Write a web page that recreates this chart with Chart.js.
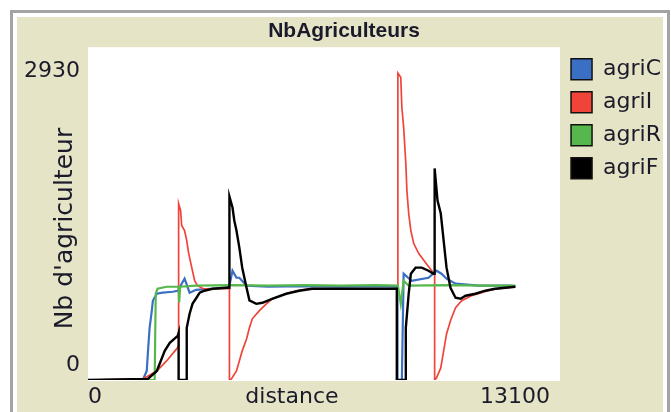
<!DOCTYPE html>
<html><head>
<meta charset="UTF-8">
<title>NbAgriculteurs</title>
<style>
  body { margin: 0; background: #fff; }
  #frame { position: absolute; left: 10px; top: 10px; width: 654px; height: 420px; border: 3px solid #a3a3a3; background: #fff; }
  #panel { position: absolute; left: 4px; top: 4px; width: 646px; height: 412px; background: #e6e4c6; }
  canvas { display: block; }
</style>
<script src="https://cdn.jsdelivr.net/npm/chart.js"></script>
</head>
<body>
<div id="frame"><div id="panel"><canvas id="plot" width="646" height="395"></canvas></div></div>

<script>
// values (x = distance, y = nb agriculteurs)
const agriCX = [0, 1520, 1630, 1660, 1710, 1770, 1800, 1910, 2070, 2350, 2490, 2600, 2680, 2820, 3000, 3400, 3840, 3925, 4010, 4120, 4200, 4400, 5000, 6000, 7000, 8000, 8590, 8590, 8710, 8760, 8980, 9450, 9670, 9810, 9950, 10200, 10840, 11750, 11860];
const agriCY = [0, 0, 86, 249, 498, 660, 756, 823, 833, 842, 852, 919, 967, 833, 861, 871, 880, 900, 1043, 976, 976, 900, 890, 895, 890, 895, 890, 0, 0, 1014, 947, 976, 1043, 1014, 967, 919, 900, 900, 890];

const agriIX = [0, 1520, 1910, 2180, 2460, 2515, 2515, 2570, 2600, 2680, 2740, 2790, 2880, 2960, 3040, 3200, 3925, 3925, 3980, 4120, 4200, 4280, 4400, 4480, 4560, 4750, 4950, 5110, 5500, 5780, 6140, 8600, 8600, 8680, 8710, 8760, 8820, 8850, 8900, 8960, 9040, 9180, 9370, 9540, 9620, 9620, 9670, 9790, 9870, 9950, 10060, 10200, 10370, 10640, 10920, 11190, 11580, 11860];
const agriIY = [0, 10, 86, 182, 297, 325, 1684, 1617, 1474, 1426, 1330, 1215, 1072, 947, 900, 871, 871, 0, 10, 86, 182, 278, 392, 498, 584, 660, 727, 775, 823, 852, 871, 871, 2928, 2890, 2603, 2412, 2067, 1809, 1589, 1426, 1302, 1206, 1120, 1043, 1000, 0, 19, 115, 278, 440, 565, 689, 756, 804, 833, 861, 880, 890];

const agriRX = [0, 1850, 1880, 1930, 2180, 2515, 2530, 2560, 3000, 4000, 5000, 6000, 7000, 8000, 8600, 8680, 8760, 8900, 10000, 11000, 11860];
const agriRY = [0, 0, 823, 871, 890, 890, 740, 890, 900, 905, 900, 905, 900, 905, 900, 727, 947, 900, 905, 900, 900];

const agriFX = [0, 1660, 1910, 2130, 2270, 2490, 2515, 2515, 2740, 2740, 2820, 2900, 3010, 3100, 3230, 3460, 3840, 3925, 3925, 4010, 4060, 4120, 4200, 4280, 4400, 4480, 4670, 4840, 5110, 5500, 5860, 6220, 7240, 8570, 8570, 8820, 8820, 8900, 8960, 9090, 9260, 9450, 9590, 9620, 9620, 9700, 9790, 9870, 9950, 10060, 10200, 10340, 10480, 10750, 11030, 11300, 11580, 11860];
const agriFY = [0, 10, 86, 278, 354, 421, 450, 0, 0, 498, 632, 727, 785, 833, 852, 871, 880, 880, 1751, 1646, 1522, 1426, 1263, 1072, 880, 760, 727, 737, 775, 823, 852, 871, 871, 871, 0, 0, 498, 823, 1014, 1072, 1072, 1043, 1014, 1014, 2019, 1713, 1589, 1330, 1072, 880, 785, 775, 804, 823, 852, 871, 880, 890];

const seriesNames = ['agriC', 'agriI', 'agriR', 'agriF'];
const seriesColors = ['#3a6fc4', '#f0443a', '#56b84c', '#000000'];
const xTickValues = [0, 13100];
const xTickLabels = ['0', '13100'];
const yTickValues = [0, 2930];
const yTickLabels = ['0', '2930'];
const xTitle = 'distance';
const yTitle = "Nb d'agriculteur";
const plotTitle = 'NbAgriculteurs';

const textColor = '#1a1a2a';
const fontFamily = '"DejaVu Sans", sans-serif';

function points(xs, ys) {
  return xs.map((x, i) => ({x: x, y: ys[i]}));
}

const seriesData = [points(agriCX, agriCY), points(agriIX, agriIY), points(agriRX, agriRY), points(agriFX, agriFY)];

// white plot background + axis titles drawn beside the tick labels, like NetLogo
const plotDecor = {
  id: 'plotDecor',
  beforeDatasetsDraw(chart) {
    const a = chart.chartArea;
    chart.ctx.save();
    chart.ctx.fillStyle = '#ffffff';
    chart.ctx.fillRect(a.left, a.top, a.right - a.left, a.bottom - a.top + 1);
    chart.ctx.restore();
  },
  afterDraw(chart) {
    const ctx = chart.ctx;
    const a = chart.chartArea;
    ctx.save();
    ctx.fillStyle = textColor;
    ctx.textAlign = 'center';
    ctx.textBaseline = 'middle';
    ctx.font = '22px ' + fontFamily;
    ctx.fillText(xTitle, a.left + (a.right - a.left) * 0.432, a.bottom + 17);
    ctx.font = '25px ' + fontFamily;
    ctx.translate(48, a.top + (a.bottom - a.top) * 0.545);
    ctx.rotate(-Math.PI / 2);
    ctx.fillText(yTitle, 0, 0);
    ctx.restore();
  }
};

const ctx = document.getElementById('plot').getContext('2d');
new Chart(ctx, {
  type: 'line',
  data: {
    datasets: seriesNames.map((name, i) => ({
      label: name,
      data: seriesData[i],
      borderColor: seriesColors[i],
      backgroundColor: seriesColors[i],
      borderWidth: name === 'agriI' ? 1.7 : (name === 'agriF' ? 2.4 : 2.2),
      pointRadius: 0,
      tension: 0,
      order: seriesNames.length - i
    }))
  },
  options: {
    responsive: false,
    animation: false,
    layout: { padding: { left: 0, right: -8, top: 0, bottom: 0 } },
    plugins: {
      title: {
        display: true,
        text: plotTitle,
        color: textColor,
        font: { family: '"Liberation Sans", sans-serif', size: 21, weight: 'bold' },
        padding: { top: 2, bottom: 3 }
      },
      legend: {
        position: 'right',
        align: 'start',
        fullSize: false,
        labels: {
          boxWidth: 21,
          boxHeight: 21,
          padding: 11,
          color: textColor,
          font: { family: fontFamily, size: 22 },
          sort: (a, b) => a.datasetIndex - b.datasetIndex,
          generateLabels: chart => Chart.defaults.plugins.legend.labels.generateLabels(chart).map(l => {
            l.strokeStyle = '#111';
            l.lineWidth = 1.5;
            return l;
          })
        }
      },
      tooltip: { enabled: false }
    },
    scales: {
      x: {
        type: 'linear',
        min: 0,
        max: 13100,
        grid: { display: false, drawTicks: false },
        border: { display: false },
        // last label ends a bit left of the plot edge
        afterBuildTicks: s => { s.ticks = xTickValues.map((v, i) => ({value: v - [0, 280][i]})); },
        afterFit: s => { s.height = 32; },
        ticks: {
          color: textColor,
          font: { family: fontFamily, size: 22 },
          padding: 4,
          maxRotation: 0,
          align: 'inner',
          callback: (v, i) => xTickLabels[i]
        }
      },
      y: {
        min: 0,
        max: 3176,
        grid: { display: false, drawTicks: false },
        border: { display: false },
        // labels sit a little inside the plot, like NetLogo draws them
        afterBuildTicks: s => { s.ticks = yTickValues.map((v, i) => ({value: v + [140, 15][i]})); },
        afterFit: s => { s.width = 71; },
        ticks: {
          color: textColor,
          font: { family: fontFamily, size: 22 },
          padding: 8,
          callback: (v, i) => yTickLabels[i]
        }
      }
    }
  },
  plugins: [plotDecor]
});
</script>
</body></html>
